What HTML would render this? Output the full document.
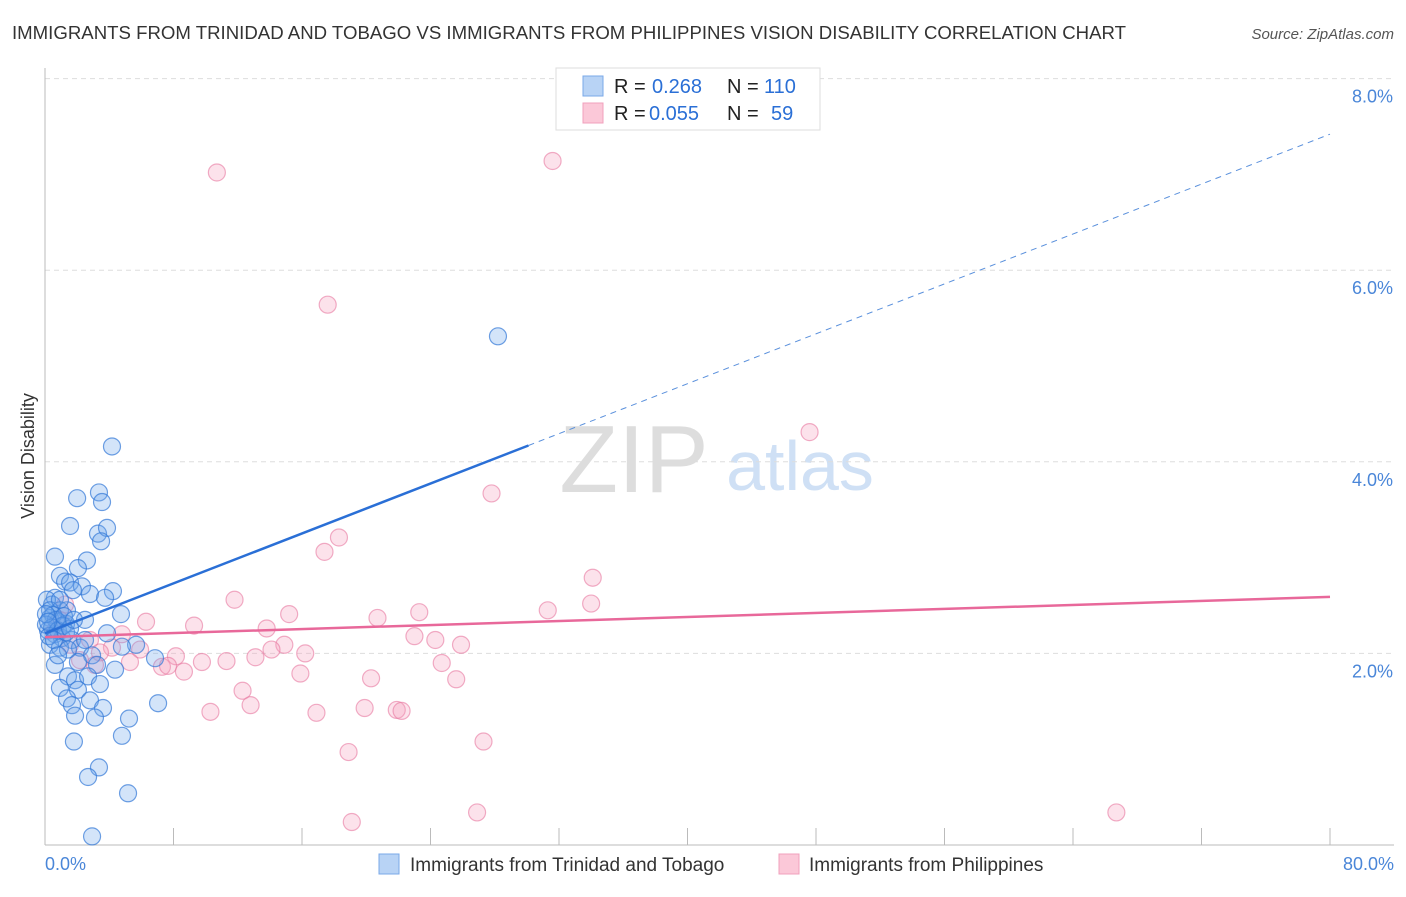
<!DOCTYPE html>
<html><head><meta charset="utf-8"><style>
body{margin:0;background:#fff;font-family:"Liberation Sans",sans-serif;}
svg text{font-family:"Liberation Sans",sans-serif;}
</style></head><body>
<svg id="chart" width="1406" height="892" xmlns="http://www.w3.org/2000/svg">
<text x="12" y="39" font-size="18" fill="#333" textLength="1114" lengthAdjust="spacingAndGlyphs">IMMIGRANTS FROM TRINIDAD AND TOBAGO VS IMMIGRANTS FROM PHILIPPINES VISION DISABILITY CORRELATION CHART</text>
<text x="1394" y="39" font-size="15" fill="#555" font-style="italic" text-anchor="end">Source: ZipAtlas.com</text>
<text x="634" y="492" font-size="96" fill="#ddd" font-family="Liberation Serif" text-anchor="middle">ZIP</text>
<text x="800" y="490" font-size="70" fill="#cfe0f5" text-anchor="middle">atlas</text>
<g id="grid"></g><g id="axes"></g><g id="pts"></g><g id="lines"></g>
<text transform="translate(34,456) rotate(-90)" font-size="18" fill="#333" text-anchor="middle">Vision Disability</text>
<g>
<rect x="556" y="68" width="264" height="62" fill="#fff" stroke="#ddd"/>
<rect x="583" y="76" width="20" height="20" fill="#b8d3f5" stroke="#7aa8e8"/>
<rect x="583" y="103" width="20" height="20" fill="#fbc8d8" stroke="#f0a0bc"/>
<text x="614" y="93" font-size="20" fill="#222">R = </text><text x="652" y="93" font-size="20" fill="#2a6fd6">0.268</text>
<text x="727" y="93" font-size="20" fill="#222">N = </text><text x="764" y="93" font-size="20" fill="#2a6fd6">110</text>
<text x="614" y="120" font-size="20" fill="#222">R = </text><text x="649" y="120" font-size="20" fill="#2a6fd6">0.055</text>
<text x="727" y="120" font-size="20" fill="#222">N = </text><text x="771" y="120" font-size="20" fill="#2a6fd6">59</text>
</g>
<g>
<rect x="379" y="854" width="20" height="20" fill="#b8d3f5" stroke="#7aa8e8"/>
<text x="410" y="871" font-size="19" fill="#333">Immigrants from Trinidad and Tobago</text>
<rect x="779" y="854" width="20" height="20" fill="#fbc8d8" stroke="#f0a0bc"/>
<text x="809" y="871" font-size="19" fill="#333">Immigrants from Philippines</text>
</g>
</svg>
<script>
const yTicks=[2,4,6,8];
const xTickLabels=["0.0%","80.0%"];
const blueX=[4.17,2.0,3.36,3.55,1.56,3.30,3.86,3.49,0.62,2.61,2.05,0.93,1.25,1.56,2.30,1.74,2.80,4.23,3.74,0.62,0.44,0.93,1.37,4.73,0.31,0.81,1.31,2.49,0.19,0.62,1.06,1.68,3.86,0.31,0.93,2.18,2.93,5.67,4.79,6.85,2.05,3.24,0.62,4.36,1.43,1.87,2.68,3.42,0.93,2.05,1.37,2.80,7.04,1.68,3.61,1.87,3.11,5.23,4.79,1.80,3.36,2.68,5.17,2.93,28.2,0.12,0.31,0.5,0.68,0.06,0.44,0.81,1.12,0.25,0.56,1.31,1.56,0.06,0.93,1.18,1.8,1.43,0.81,2.49,0.19];
const blueY=[4.16,3.62,3.68,3.58,3.33,3.25,3.31,3.17,3.01,2.97,2.89,2.81,2.75,2.74,2.70,2.66,2.62,2.65,2.58,2.58,2.51,2.45,2.45,2.41,2.37,2.33,2.31,2.35,2.24,2.20,2.16,2.14,2.21,2.09,2.06,2.06,1.98,2.09,2.07,1.95,1.91,1.88,1.88,1.83,1.76,1.72,1.76,1.68,1.64,1.62,1.53,1.51,1.48,1.46,1.43,1.35,1.33,1.32,1.14,1.08,0.81,0.71,0.54,0.09,5.31,2.56,2.45,2.4,2.35,2.3,2.27,2.24,2.29,2.18,2.14,2.22,2.26,2.41,2.56,2.39,2.35,2.04,1.98,2.14,2.33];
const pinkX=[10.7,31.6,17.6,47.6,27.8,18.3,17.4,34.1,11.8,31.3,34.0,23.3,15.2,20.7,6.29,9.28,13.8,4.79,23.0,24.3,25.9,14.9,14.1,16.2,5.92,4.17,2.80,1.56,13.1,8.15,11.3,9.77,5.29,7.28,7.66,8.65,24.7,15.9,20.3,25.6,12.3,12.8,19.9,21.9,22.2,10.3,16.9,27.3,18.9,19.1,26.9,66.7,0.93,0.62,2.18,3.42,1.25,3.11];
const pinkY=[7.02,7.14,5.64,4.31,3.67,3.21,3.06,2.79,2.56,2.45,2.52,2.43,2.41,2.37,2.33,2.29,2.26,2.20,2.18,2.14,2.09,2.09,2.04,2.00,2.04,2.06,2.14,2.09,1.96,1.97,1.92,1.91,1.91,1.86,1.87,1.81,1.90,1.79,1.74,1.73,1.61,1.46,1.43,1.41,1.40,1.39,1.38,1.08,0.97,0.24,0.34,0.34,2.35,2.24,1.93,2.01,2.51,1.88];
const blueTrend=[2.21,7.42], blueSolidEnd=30.1;
const pinkTrend=[2.17,2.59];
const NS="http://www.w3.org/2000/svg";
const sx=v=>45+v/80*1285, sy=v=>845-v*95.8;
function mk(tag,attrs,parent){const e=document.createElementNS(NS,tag);for(const k in attrs)e.setAttribute(k,attrs[k]);document.getElementById(parent).appendChild(e);return e;}
yTicks.forEach(t=>{
 const l=mk('line',{x1:45,x2:1394,y1:sy(t),y2:sy(t),stroke:'#ddd','stroke-dasharray':'5,4'},'grid');
 
 
 const tx=mk('text',{x:1393,y:sy(t)+24,'font-size':18,fill:'#4a86d8','text-anchor':'end'},'grid');
 tx.textContent=t.toFixed(1)+'%';
 
 
});
mk('line',{x1:45,x2:45,y1:68,y2:845,stroke:'#bbb'},'axes');
mk('line',{x1:45,x2:1394,y1:845,y2:845,stroke:'#bbb'},'axes');
for(let i=0;i<=10;i++){const t=mk('line',{x1:sx(i*8),x2:sx(i*8),y1:828,y2:845,stroke:'#bbb'},'axes');
 
 }
const xl0=mk('text',{x:45,y:870,'font-size':18,fill:'#4a86d8'},'axes');xl0.textContent=xTickLabels[0];


const xl1=mk('text',{x:1394,y:870,'font-size':18,fill:'#4a86d8','text-anchor':'end'},'axes');xl1.textContent=xTickLabels[1];


pinkX.forEach((x,i)=>{const c=mk('circle',{cx:sx(x),cy:sy(pinkY[i]),r:8.5,fill:'rgba(245,160,190,0.3)',stroke:'rgba(232,120,160,0.6)','stroke-width':1.2},'pts');
 
 });
blueX.forEach((x,i)=>{const c=mk('circle',{cx:sx(x),cy:sy(blueY[i]),r:8.5,fill:'rgba(110,165,235,0.3)',stroke:'rgba(50,120,215,0.7)','stroke-width':1.2},'pts');
 
 });
const by=x=>blueTrend[0]+(blueTrend[1]-blueTrend[0])*x/80;
const bl=mk('line',{x1:sx(0),y1:sy(by(0)),x2:sx(blueSolidEnd),y2:sy(by(blueSolidEnd)),stroke:'#2a6fd6','stroke-width':2.5},'lines');


const bd=mk('line',{x1:sx(blueSolidEnd),y1:sy(by(blueSolidEnd)),x2:sx(80),y2:sy(by(80)),stroke:'#5a90dc','stroke-width':1,'stroke-dasharray':'6,5'},'lines');


const pl=mk('line',{x1:sx(0),y1:sy(pinkTrend[0]),x2:sx(80),y2:sy(pinkTrend[1]),stroke:'#e8689a','stroke-width':2.5},'lines');


</script>
</body></html>
